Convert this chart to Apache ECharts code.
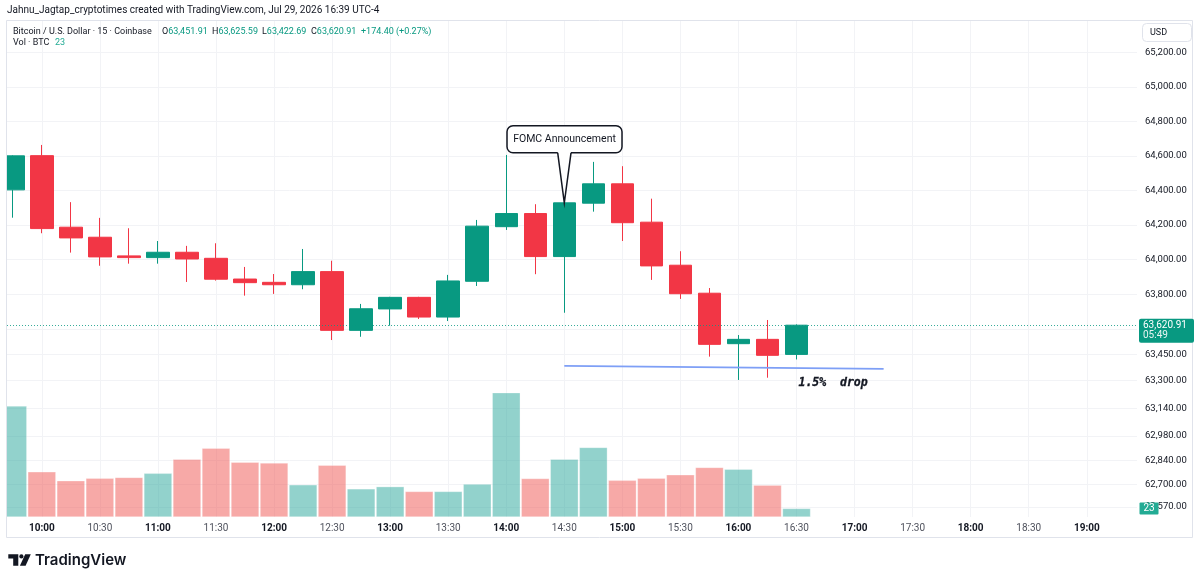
<!DOCTYPE html>
<html><head><meta charset="utf-8">
<script src="https://cdn.jsdelivr.net/npm/echarts@6/dist/echarts.min.js"></script>
<style>html,body{margin:0;padding:0;background:#fff;}#c{width:1200px;height:583px;}</style>
</head><body><div id="c"></div>
<script>
// ---- data ----
const times = ['09:45','10:00','10:15','10:30','10:45','11:00','11:15','11:30','11:45','12:00','12:15','12:30','12:45','13:00','13:15','13:30','13:45','14:00','14:15','14:30','14:45','15:00','15:15','15:30','15:45','16:00','16:15','16:30'];
const opens  = [64404,64602,64188,64130,64022,64012,64043,64008,63888,63869,63855,63931,63591,63715,63782,63668,63875,64191,64267,64018,64327,64439,64217,63968,63806,63514,63539,63451.91];
const closes = [64601,64180,64126,64016,64012,64043,64004,63887,63867,63855,63931,63591,63716,63782,63668,63877,64194,64267,64018,64329,64439,64214,63964,63803,63510,63539,63446.51,63620.91];
const lows   = [64243,64153,64041,63965,63977,63977,63871,63879,63792,63802,63829,63535,63554,63618,63657,63645,63848,64172,63916,63693,64278,64108,63883,63773,63439,63304,63317,63422.69];
const highs  = [64604,64664,64333,64242,64182,64108,64080,64095,63958,63917,64062,63994,63744,63785,63785,63912,64230,64606,64321,64329,64566,64541,64353,64049,63836,63564,63651,63625.59];
const volumes = [300,122,98,105,107,118,156,186,148,146,87,140,76,82,69,69,89,336,104,156,188,99,105,114,134,129,86,23];
const timeTickLabels = ['10:00','10:30','11:00','11:30','12:00','12:30','13:00','13:30','14:00','14:30','15:00','15:30','16:00','16:30','17:00','17:30','18:00','18:30','19:00'];
const priceTickLabels = [65200,65000,64800,64600,64400,64200,64000,63800,63600,63450,63300,63140,62980,62840,62700,62570];
const countdown = '05:49';
const fomcCandle = '14:30';
const dropStart = ['14:30', 63385];
const dropEnd = ['17:15', 63368];
const dropLabelAt = ['16:31', 63285];

// ---- helpers ----
const UP = '#089981', DOWN = '#F23645';
const VUP = 'rgba(38,166,154,0.5)', VDOWN = 'rgba(239,83,80,0.5)';
const FONT = 'Roboto, "Noto Sans", sans-serif';
function idx(t){const [h,m]=t.split(':').map(Number);return (h*60+m-(9*60+45))/15;}
function fmt(v){return v.toLocaleString('en-US',{minimumFractionDigits:2,maximumFractionDigits:2});}
const tickIdx = timeTickLabels.map(idx);
const candleData = times.map((t,i)=>[idx(t),opens[i],closes[i],lows[i],highs[i]]);
const volData = times.map((t,i)=>({value:[idx(t),volumes[i]],itemStyle:{color:closes[i]>=opens[i]?VUP:VDOWN}}));
const last = times.length-1;

const chart = echarts.init(document.getElementById('c'),null,{renderer:'canvas'});
const option = {
  animation:false,
  backgroundColor:'#ffffff',
  grid:{left:7,right:63,top:20,bottom:66,containLabel:false,outerBoundsMode:'none'},
  xAxis:{type:'value',min:-0.2,max:38.73,
    axisLine:{show:false},
    axisTick:{show:false,customValues:tickIdx},
    splitLine:{show:true,lineStyle:{color:'#f2f3f6',width:1}},
    axisLabel:{customValues:tickIdx,margin:6,fontFamily:FONT,fontSize:10,
      formatter:function(v){const m=Math.round(v*15+585);const h=Math.floor(m/60),mm=m%60;const s=h+':'+(mm<10?'0':'')+mm;return mm===0?'{b|'+s+'}':'{n|'+s+'}';},
      rich:{b:{fontWeight:'bold',color:'#131722',fontFamily:FONT,fontSize:10},n:{color:'#50535e',fontFamily:FONT,fontSize:10}}}
  },
  yAxis:[
    {type:'value',position:'right',min:62511,max:65387,scale:true,
     axisLine:{show:false},axisTick:{show:false,customValues:priceTickLabels},
     splitLine:{show:true,lineStyle:{color:'#f2f3f6',width:1}},
     axisLabel:{customValues:priceTickLabels,margin:8,color:'#131722',fontFamily:FONT,fontSize:9.5,formatter:fmt}},
    {type:'value',min:0,max:1343,show:false,splitLine:{show:false}}
  ],
  series:[
    {type:'bar',name:'Vol',xAxisIndex:0,yAxisIndex:1,data:volData,barWidth:28,z:1,clip:true,
     itemStyle:{borderColor:'rgba(255,255,255,0.6)',borderWidth:0.5}},
    {type:'candlestick',name:'BTCUSD',xAxisIndex:0,yAxisIndex:0,data:candleData,barWidth:23,z:3,clip:true,
     itemStyle:{color:UP,color0:DOWN,borderColor:UP,borderColor0:DOWN,borderWidth:1},
     markLine:{symbol:['none','none'],silent:true,
       data:[
        {yAxis:closes[last],lineStyle:{color:UP,type:[1,2],width:1,opacity:0.8},label:{show:false}},
        [{coord:[idx(dropStart[0]),dropStart[1]],lineStyle:{color:'#7e9ff6',width:1.8,type:'solid'},label:{show:false}},
         {coord:[idx(dropEnd[0]),dropEnd[1]]}]
       ]}}
  ]
};
chart.setOption(option);

// ---- annotations placed through the chart's scales ----
const fi = times.indexOf(fomcCandle);
const tip = chart.convertToPixel({seriesIndex:1},[idx(fomcCandle),closes[fi]]);
const tx=tip[0], ty=tip[1];
const L=tx-57.3,R=tx+57.7,T=ty-77,B=ty-50;
const dl = chart.convertToPixel({seriesIndex:1},[idx(dropLabelAt[0]),dropLabelAt[1]]);
const yc = chart.convertToPixel({yAxisIndex:0},closes[last]);
const yv = chart.convertToPixel({yAxisIndex:1},volumes[last]);
const ohlc = (k,v)=>'{a|'+k+'}{g|'+fmt(v)+'}';
const rich = {a:{fill:'#131722',font:'9px '+FONT},g:{fill:UP,font:'9px '+FONT}};
const chg = closes[last]-closes[last-1];

const graphics=[
  {type:'rect',shape:{x:0,y:20,width:6.5,height:500},style:{fill:'#fff'},silent:true,z:40},
  {type:'rect',shape:{x:6.5,y:20.5,width:1186,height:517},style:{fill:'none',stroke:'#e0e3eb',lineWidth:1},silent:true,z:41},
  {type:'text',x:7,y:10,style:{text:'Jahnu_Jagtap_cryptotimes created with TradingView.com, Jul 29, 2026 16:39 UTC-4',fill:'#131722',fontSize:10,fontFamily:FONT,textVerticalAlign:'middle'}},
  {type:'text',x:13,y:32,style:{text:'Bitcoin / U.S. Dollar · 15 · Coinbase',fill:'#131722',font:'9px '+FONT,textVerticalAlign:'middle'}},
  {type:'text',x:162,y:32,style:{text:ohlc('O',opens[last]),rich:rich,textVerticalAlign:'middle'}},
  {type:'text',x:212,y:32,style:{text:ohlc('H',highs[last]),rich:rich,textVerticalAlign:'middle'}},
  {type:'text',x:262,y:32,style:{text:ohlc('L',lows[last]),rich:rich,textVerticalAlign:'middle'}},
  {type:'text',x:311,y:32,style:{text:ohlc('C',closes[last]),rich:rich,textVerticalAlign:'middle'}},
  {type:'text',x:361,y:32,style:{text:'+'+fmt(chg)+' (+'+(chg/closes[last-1]*100).toFixed(2)+'%)',fill:UP,font:'9px '+FONT,textVerticalAlign:'middle'}},
  {type:'text',x:13,y:43,style:{text:'Vol · BTC',fill:'#131722',font:'9px '+FONT,textVerticalAlign:'middle'}},
  {type:'text',x:55,y:43,style:{text:String(volumes[last]),fill:'#22ab94',font:'9px '+FONT,textVerticalAlign:'middle'}},
  {type:'rect',shape:{x:1142.5,y:23.5,width:49,height:18,r:4},style:{fill:'#fff',stroke:'#e0e3eb',lineWidth:1},z:10},
  {type:'text',x:1150,y:33,style:{text:'USD',fill:'#131722',font:'9px '+FONT,textVerticalAlign:'middle'},z:11},
  // last price tag
  {type:'rect',shape:{x:1139,y:yc-6.5,width:55,height:24,r:2},style:{fill:UP},z:50},
  {type:'text',x:1143,y:yc+0.5,style:{text:fmt(closes[last]),fill:'#fff',font:'10px '+FONT,textVerticalAlign:'middle'},z:51},
  {type:'text',x:1143,y:yc+10.5,style:{text:countdown,fill:'#e8f5f2',font:'10px '+FONT,textVerticalAlign:'middle'},z:51},
  // volume tag
  {type:'rect',shape:{x:1139.5,y:yv-6,width:19,height:12,r:1},style:{fill:'#22ab94'},z:50},
  {type:'text',x:1149,y:yv,style:{text:String(volumes[last]),fill:'#fff',font:'10px '+FONT,textAlign:'center',textVerticalAlign:'middle'},z:51},
  // FOMC callout
  {type:'rect',shape:{x:L,y:T,width:R-L,height:B-T,r:6},style:{fill:'#fff',stroke:'#131722',lineWidth:1.5},z:60},
  {type:'polygon',shape:{points:[[tx-6.6,B-1],[tx+6.7,B-1],[tx,ty]]},style:{fill:'#fff'},z:61},
  {type:'polyline',shape:{points:[[tx-6.6,B],[tx,ty],[tx+6.7,B]]},style:{stroke:'#131722',lineWidth:1.5,fill:null},z:62},
  {type:'text',x:(L+R)/2,y:(T+B)/2,style:{text:'FOMC Announcement',fill:'#131722',font:'10.5px '+FONT,textAlign:'center',textVerticalAlign:'middle'},z:63},
  {type:'text',x:dl[0],y:dl[1],style:{text:'1.5%  drop',fill:'#131722',font:'italic bold 11.5px "DejaVu Sans Mono", monospace',textVerticalAlign:'middle',stroke:'#131722',lineWidth:0.3},z:21},
  // TradingView logo
  {type:'polygon',shape:{points:[[8.3,554.3],[18.3,554.3],[18.3,565.7],[13.2,565.7],[13.2,558.6],[8.3,558.6]]},style:{fill:'#131722'}},
  {type:'circle',shape:{cx:21.4,cy:556.4,r:2.1},style:{fill:'#131722'}},
  {type:'polygon',shape:{points:[[25.2,554.3],[30.8,554.3],[25.6,565.7],[19.9,565.7]]},style:{fill:'#131722'}},
  {type:'text',x:35,y:560,style:{text:'TradingView',fill:'#131722',font:'600 15px Inter, sans-serif',textVerticalAlign:'middle'}}
];
chart.setOption({graphic:graphics});
</script></body></html>
